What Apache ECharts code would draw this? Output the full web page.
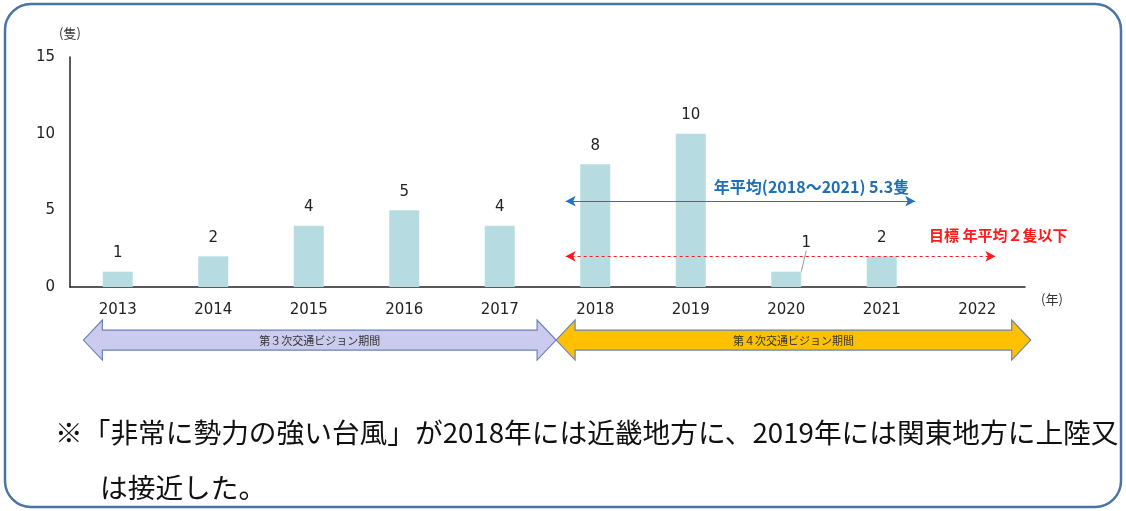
<!DOCTYPE html>
<html>
<head>
<meta charset="utf-8">
<script src="https://cdn.jsdelivr.net/npm/echarts@6/dist/echarts.min.js"></script>
<style>
  html, body { margin: 0; padding: 0; background: #fff; }
  #chart { width: 1126px; height: 511px; }
</style>
</head>
<body>
<div id="chart"></div>
<script>
// data
const years = ['2013', '2014', '2015', '2016', '2017', '2018', '2019', '2020', '2021', '2022']
const ships = [1, 2, 4, 5, 4, 8, 10, 1, 2, null]
const yTicks = { min: 0, max: 15, interval: 5 }

// reference lines (x in category units on a hidden 0..10 value axis)
const avgLevel = 5.6
const avgSpan = [5.19, 8.85]
const avgText = '年平均(2018～2021) 5.3隻'
const goalLevel = 2
const goalSpan = [5.19, 9.69]
const goalText = '目標 年平均２隻以下'

// plan periods below the axis
const periodNames = ['第３次交通ビジョン期間', '第４次交通ビジョン期間']
const periodStart = [0.14, 5.09]
const periodEnd = [5.09, 10.06]
const periodLevel = -3.46
const periodColors = ['#cbcbef', '#ffc000']

const note1 = '※「非常に勢力の強い台風」が2018年には近畿地方に、2019年には関東地方に上陸又'
const note2 = 'は接近した。'

const numFont = 'DejaVu Sans'
const jpFont = 'Noto Sans CJK JP'

const chart = echarts.init(document.getElementById('chart'))

const barData = ships.map((v, i) => {
  if (i === 7) {
    return { value: v, labelLine: { show: true, lineStyle: { color: '#9a9a9a', width: 1 } } }
  }
  return v
})

function renderPeriod (params, api) {
  const s = api.coord([api.value(0), api.value(2)])
  const e = api.coord([api.value(1), api.value(2)])
  const cy = s[1]
  const head = 19
  const sh = 10
  const hh = 20
  const pts = [
    [s[0], cy], [s[0] + head, cy - hh], [s[0] + head, cy - sh],
    [e[0] - head, cy - sh], [e[0] - head, cy - hh], [e[0], cy],
    [e[0] - head, cy + hh], [e[0] - head, cy + sh],
    [s[0] + head, cy + sh], [s[0] + head, cy + hh]
  ]
  return {
    type: 'group',
    children: [
      {
        type: 'polygon',
        shape: { points: pts },
        style: { fill: periodColors[params.dataIndex], stroke: '#6a84b6', lineWidth: 1.2 }
      },
      {
        type: 'text',
        style: {
          text: periodNames[params.dataIndex],
          x: (s[0] + e[0]) / 2,
          y: cy + 1,
          align: 'center',
          verticalAlign: 'middle',
          fontSize: 11,
          fontFamily: jpFont,
          fill: '#333'
        }
      }
    ]
  }
}

const option = {
  animation: false,
  backgroundColor: '#fff',
  grid: { left: 70, right: 101, top: 57, bottom: 224 },
  xAxis: [
    {
      type: 'category',
      data: years,
      name: '(年)',
      nameLocation: 'end',
      nameGap: 16,
      nameTextStyle: { fontFamily: jpFont, fontSize: 13, color: '#333', verticalAlign: 'top', padding: [6, 0, 0, 0] },
      axisLine: { lineStyle: { color: '#222', width: 1.5 } },
      axisTick: { show: false },
      axisLabel: { margin: 16, fontFamily: numFont, fontSize: 15, color: '#222' }
    },
    { type: 'value', min: 0, max: 10, show: false }
  ],
  yAxis: {
    type: 'value',
    min: yTicks.min,
    max: yTicks.max,
    interval: yTicks.interval,
    name: '(隻)',
    nameLocation: 'end',
    nameGap: 17,
    nameTextStyle: { fontFamily: jpFont, fontSize: 13, color: '#333', align: 'center' },
    axisLine: { show: true, lineStyle: { color: '#222', width: 1.5 } },
    axisTick: { show: false },
    splitLine: { show: false },
    axisLabel: { margin: 15, fontFamily: numFont, fontSize: 15, color: '#222' }
  },
  series: [
    {
      type: 'bar',
      data: barData,
      barWidth: 30,
      itemStyle: { color: '#b6dce1' },
      label: { show: true, position: 'top', distance: 11, fontFamily: numFont, fontSize: 15, color: '#222' },
      labelLine: { show: false },
      labelLayout: function (p) {
        if (p.dataIndex === 7) return { dx: 20, dy: -10 }
        return {}
      }
    },
    {
      type: 'line',
      xAxisIndex: 1,
      data: [],
      silent: true,
      markLine: {
        silent: true,
        animation: false,
        data: [
          [
            { coord: [avgSpan[0], avgLevel], symbol: 'arrow' },
            { coord: [avgSpan[1], avgLevel], symbol: 'arrow' }
          ]
        ],
        symbolSize: [8, 10],
        lineStyle: { color: '#1e74c0', type: 'solid', width: 1.2 },
        label: {
          show: true,
          position: 'insideEndTop',
          distance: 6,
          formatter: avgText,
          fontFamily: jpFont,
          fontWeight: 'bold',
          fontSize: 16,
          color: '#1f6fb6'
        }
      }
    },
    {
      type: 'line',
      xAxisIndex: 1,
      data: [],
      silent: true,
      markLine: {
        silent: true,
        animation: false,
        data: [
          [
            { coord: [goalSpan[0], goalLevel], symbol: 'arrow' },
            { coord: [goalSpan[1], goalLevel], symbol: 'arrow' }
          ]
        ],
        symbolSize: [8, 10],
        lineStyle: { color: '#ff1a1a', type: [3, 3], width: 1 },
        label: {
          show: true,
          position: 'insideEndTop',
          distance: 14,
          offset: [86, 0],
          formatter: goalText,
          fontFamily: jpFont,
          fontWeight: 'bold',
          fontSize: 15,
          color: '#ff1a1a'
        }
      }
    },
    {
      type: 'custom',
      xAxisIndex: 1,
      silent: true,
      clip: false,
      renderItem: renderPeriod,
      data: periodNames.map((n, i) => [periodStart[i], periodEnd[i], periodLevel])
    }
  ],
  graphic: [
    {
      type: 'rect',
      shape: { x: 5, y: 4, width: 1116, height: 503, r: 26 },
      style: { fill: 'none', stroke: '#4a74a6', lineWidth: 2.5 },
      silent: true
    },
    {
      type: 'text',
      left: 55,
      top: 419,
      style: { text: note1, fontFamily: jpFont, fontSize: 27.7, fill: '#111' }
    },
    {
      type: 'text',
      left: 100,
      top: 474,
      style: { text: note2, fontFamily: jpFont, fontSize: 27.7, fill: '#111' }
    }
  ]
}

chart.setOption(option)
</script>
</body>
</html>
